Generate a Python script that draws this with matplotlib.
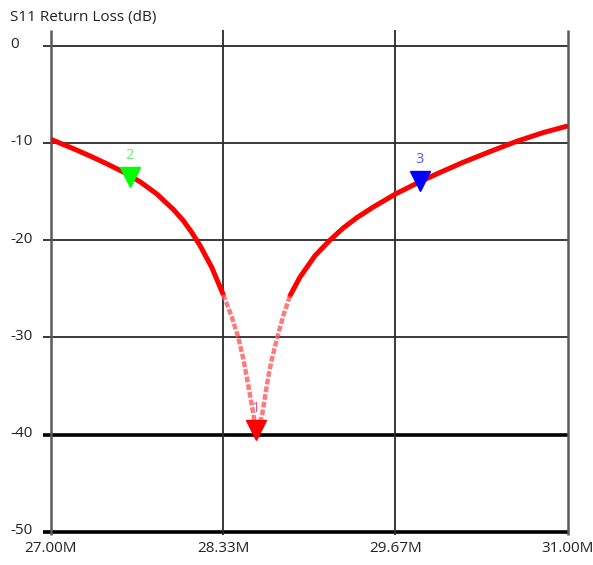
import matplotlib
matplotlib.use("Agg")
import matplotlib.pyplot as plt
import numpy as np

plt.rcParams['font.family'] = ['Open Sans', 'DejaVu Sans']

# Frequency in MHz and return loss in dB
freq_mhz = [27.002, 27.175, 27.304, 27.433, 27.562, 27.691, 27.820, 27.949, 28.026, 28.091,
            28.155, 28.246, 28.335, 28.400, 28.451, 28.490, 28.516, 28.542, 28.568, 28.586,
            28.633, 28.658, 28.684, 28.710, 28.753, 28.800, 28.852, 28.929, 29.045,
            29.161, 29.264, 29.368, 29.496, 29.669, 29.857, 30.012, 30.192, 30.399, 30.605,
            30.811, 30.992]
s11_db = [-9.65, -10.6, -11.35, -12.15, -13.0, -14.0, -15.25, -16.85, -18.0, -19.2,
          -20.55, -22.8, -25.6, -27.85, -30.0, -32.2, -34.0, -35.9, -37.9, -39.5,
          -38.2, -36.1, -34.0, -32.3, -30.0, -27.75, -25.7, -23.8, -21.6,
          -20.0, -18.75, -17.7, -16.6, -15.25, -14.0, -13.05, -12.0, -10.9, -9.85,
          -8.95, -8.3]

marker_ids = ["1", "2", "3"]
marker_freq = [28.586, 27.613, 29.856]
marker_db = [-39.5, -13.5, -13.9]
marker_colors = ["#ff0000", "#00ff00", "#0000ff"]
label_colors = ["#f0508a", "#70e870", "#5a5aff"]

xticks = [27.00, 28.333, 29.667, 31.00]
xtick_labels = ["27.00M", "28.33M", "29.67M", "31.00M"]
yticks = [0, -10, -20, -30, -40, -50]
ylimit = -40

fig = plt.figure(figsize=(5.93, 5.65), dpi=100)
ax = fig.add_axes([50.7/593, 1-532/565, (567.7-50.7)/593, (532-45.5)/565])
ax.set_xlim(27.0, 31.0)
ax.set_ylim(-50, 0)

for s in ax.spines.values():
    s.set_visible(False)

# grid
for y in yticks:
    thick = y in (ylimit, -50)
    ax.plot([26.94, 31.0], [y, y], color="#000000" if thick else "#2a2a2a",
            lw=2.6 if thick else 1.3, clip_on=False, zorder=1, solid_capstyle='butt')
for i, x in enumerate(xticks):
    edge = i in (0, 3)
    ax.plot([x, x], [-50.3, 1.55], color="#5a5a5a" if edge else "#2a2a2a",
            lw=1.8 if edge else 1.3, clip_on=False, zorder=1, solid_capstyle='butt')

ax.set_xticks([])
ax.set_yticks([])

f = np.array(freq_mhz)
d = np.array(s11_db)
main = np.where(d > -26.0, d, np.nan)
ax.plot(f, main, color="#ff0000", lw=3.6, zorder=3, solid_capstyle='round',
        solid_joinstyle='round')
dip = np.where(d <= -25.0, d, np.nan)
ax.plot(f, dip, color="#ff5a5a", lw=3.2, zorder=3, alpha=0.8,
        linestyle=(0, (1.3, 0.45)))

for mid, mf, md, mc, lc in zip(marker_ids, marker_freq, marker_db, marker_colors, label_colors):
    ax.plot([mf], [md], marker='v', ms=14, color=mc, mec=mc, zorder=5)
    ax.text(mf, md + 2.15, mid, color=lc, fontsize=10.5, ha='center', va='center', zorder=6)

for x, lab in zip(xticks, xtick_labels):
    fig.text(50.7/593 + (x-27.0)/4.0*(517/593), 1-548/565, lab, ha='center', va='center',
             fontsize=11, color="#222222")
for y in yticks:
    ypix = 45.5 + (-y)/50*(532-45.5)
    fig.text(10/593, 1-(ypix-1)/565, str(y), ha='left', va='center', fontsize=11, color="#222222")

fig.text(10/593, 1-17/565, "S11 Return Loss (dB)", ha='left', va='center', fontsize=11,
         color="#222222")

fig.savefig("out.png", dpi=100)
